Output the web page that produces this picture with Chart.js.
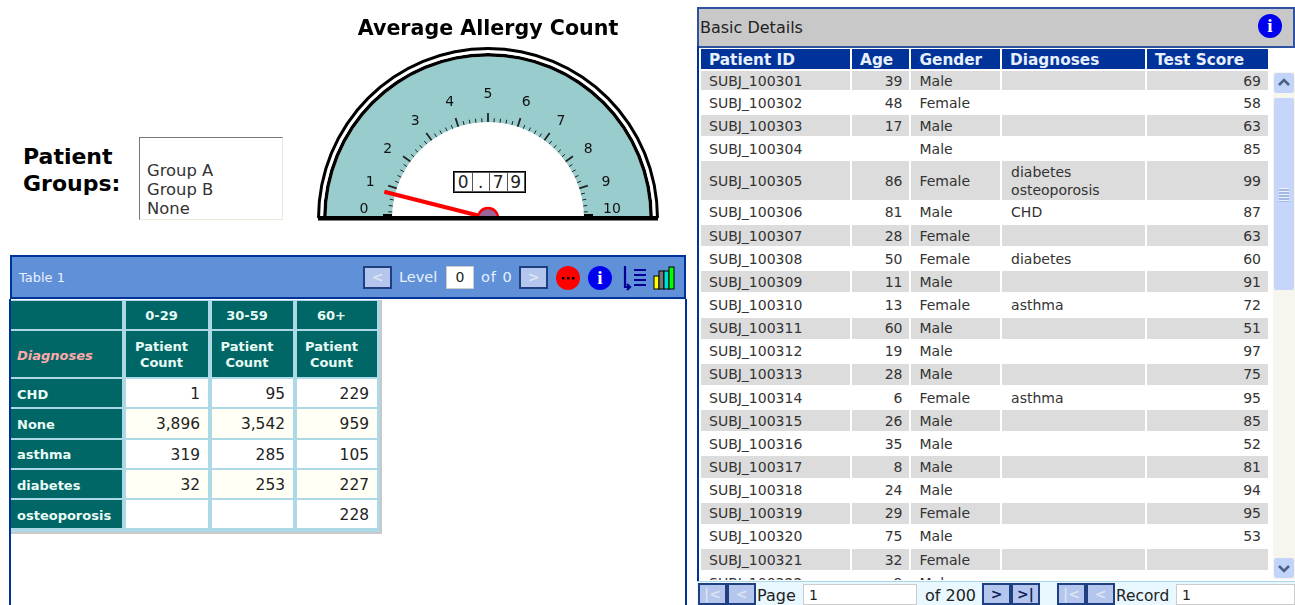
<!DOCTYPE html>
<html>
<head>
<meta charset="utf-8">
<title>Patient dashboard</title>
<script src="https://cdn.jsdelivr.net/npm/chart.js@4"></script>
<style>
html, body { margin: 0; padding: 0; background: #fff; overflow: hidden; }
body { width: 1295px; height: 605px; position: relative; font-family: "DejaVu Sans", sans-serif; color: #333; filter: blur(0.35px); }
.abs { position: absolute; white-space: nowrap; }

/* patient groups */
#groupsLabel { left: 23px; top: 143px; font-size: 22px; line-height: 27px; font-weight: bold; color: #000; }
#groupsList { left: 139px; top: 137px; width: 142px; height: 81px; border: 1px solid #eee8d8; border-top-color: #777; border-left-color: #777; }
#groupsList div { position: absolute; left: 7px; font-size: 16.4px; line-height: 19px; color: #333; }

/* gauge */
#gauge { position: absolute; left: 308px; top: 10px; }
#readout { left: 453px; top: 171px; display: flex; border: 1px solid #000; background: #555; gap: 1px; padding: 1px; }
#readout div { width: 16.5px; height: 18px; background: #fff; border: 0; font-size: 17px; line-height: 18px; text-align: center; color: #222; }

/* table 1 */
#t1Head { left: 10px; top: 255px; width: 672px; height: 40px; background: #6090d8; border: 2px solid #003399; }
#t1Left { left: 9px; top: 299px; width: 2px; height: 306px; background: #003399; }
#t1Right { left: 685px; top: 299px; width: 2px; height: 306px; background: #003399; }
#t1Wrap { left: 11px; top: 300px; background: #add8e6; border-right: 2px solid #c8c8c8; border-bottom: 2px solid #c8c8c8; padding: 0 3px 3px 0; }
#t1 { border-collapse: separate; border-spacing: 0; table-layout: fixed; }
#t1 td { padding: 2px 0 0; border-top: 1px solid #add8e6; border-bottom: 1px solid #add8e6; box-sizing: border-box; }
#t1 td + td { border-left: 4px solid #add8e6; }
#t1 .h { background-clip: padding-box; background-color: #006666; color: #e8fbf5; font-weight: bold; font-size: 13px; line-height: 16px; text-align: center; padding-right: 11px; }
#t1 .r { background-clip: padding-box; background-color: #006666; color: #e8fbf5; font-weight: bold; font-size: 13px; padding-left: 6px; }
#t1 .v { background-clip: padding-box; background-color: #fff; text-align: right; padding-right: 8px; color: #222; font-size: 15.4px; }
#t1 tr.alt .v { background-color: #fffff5; }
#t1 .dim { color: #ffaaaa; font-style: italic; }

/* navigation buttons */
.btn { box-sizing: border-box; height: 23px; border: 2px solid #1f3f80; background: #b4c6ee; color: #dde3ee; font-size: 14px; font-weight: bold; text-align: center; line-height: 18px; }
.btn.on { color: #10205a; }
.lbl { color: #e8f0ff; font-size: 14.5px; }
.box { box-sizing: border-box; background: #fff; border: 1px solid #ccc; color: #222; font-size: 14px; line-height: 20px; padding-left: 5px; }

/* basic details */
#bdHead { left: 697px; top: 7px; width: 594px; height: 37px; background: #c8c8c8; border: 2px solid #2f52a0; color: #222; font-size: 16px; line-height: 38px; text-indent: 1px; }
#bdLeft { left: 697px; top: 46px; width: 2px; height: 536px; background: #003399; }
#bdClip { left: 699px; top: 47px; width: 572px; height: 533px; overflow: hidden; }
#bd { border-collapse: separate; border-spacing: 2px; table-layout: fixed; width: 571px; font-size: 14px; color: #333; }
#bd th { background: #003399; color: #e8f0ff; font-size: 15.3px; font-weight: bold; text-align: left; padding: 2px 0 0 8px; height: 18px; line-height: 18px; }
#bd td { padding: 0 7px 0 8px; height: 21.15px; line-height: 18px; white-space: normal; }
#bd tr.grey td { background: #dcdcdc; }
#bd tr.first td { height: 19px; }
#bd tr.tall td { height: 38.5px; }
#bd .num { text-align: right; }
#bd .diag { padding-left: 9px; }

/* scrollbar */
#sbTrack { left: 1273px; top: 72px; width: 22px; height: 507px; background: #f6f5ee; }
.sbBtn { left: 1274px; width: 20px; height: 20px; background: #c3d4fa; border-radius: 3px; line-height: 0; }
#sbThumb { left: 1274px; top: 98px; width: 20px; height: 192px; background: #c6d6fb; border-radius: 2px; }
#sbGrip { left: 1279px; top: 188px; width: 10px; height: 14px; background: repeating-linear-gradient(#eef2fe 0, #eef2fe 1px, #a5b9e8 1px, #a5b9e8 3px); }

/* pager */
#pager { left: 697px; top: 581px; width: 598px; height: 24px; background: #e9f8ff; border-top: 1px solid #a8d8e8; }
.plbl { color: #222; font-size: 16px; }
</style>
</head>
<body>

<div class="abs" id="groupsLabel">Patient<br>Groups:</div>
<div class="abs" id="groupsList"></div>

<canvas id="gauge" width="360" height="220"></canvas>
<div class="abs" id="readout"></div>

<div class="abs" id="t1Head"></div>
<div class="abs" id="t1Left"></div>
<div class="abs" id="t1Right"></div>
<div class="abs" id="t1Wrap"><table id="t1"></table></div>

<div class="abs" id="bdHead">Basic Details</div>
<div class="abs" id="bdLeft"></div>
<div class="abs" id="bdClip"><table id="bd"></table></div>
<div class="abs" id="sbTrack"></div>
<div class="abs sbBtn" style="top:73px"><svg width="20" height="20" fill="none" stroke="#4d6185" stroke-width="2.5"><path d="M5 12L10 7L15 12"/></svg></div>
<div class="abs" id="sbThumb"></div>
<div class="abs" id="sbGrip"></div>
<div class="abs sbBtn" style="top:558px"><svg width="20" height="20" fill="none" stroke="#4d6185" stroke-width="2.5"><path d="M5 8L10 13L15 8"/></svg></div>
<div class="abs" id="pager"></div>

<script>
// gauge
var gaugeTitle = 'Average Allergy Count';
var gaugeMin = 0;
var gaugeMax = 10;
var gaugeValue = 0.79;
var gaugeLabels = ['0', '1', '2', '3', '4', '5', '6', '7', '8', '9', '10'];

// patient groups
var groupNames = ['Group A', 'Group B', 'None'];

// table 1
var ageBands = ['0-29', '30-59', '60+'];
var diagnosisNames = ['CHD', 'None', 'asthma', 'diabetes', 'osteoporosis'];
var counts0to29 = [1, 3896, 319, 32, null];
var counts30to59 = [95, 3542, 285, 253, null];
var counts60plus = [229, 959, 105, 227, 228];

// basic details
var detailColumns = ['Patient ID', 'Age', 'Gender', 'Diagnoses', 'Test Score'];
var patientIds = ['SUBJ_100301', 'SUBJ_100302', 'SUBJ_100303', 'SUBJ_100304', 'SUBJ_100305', 'SUBJ_100306', 'SUBJ_100307', 'SUBJ_100308', 'SUBJ_100309', 'SUBJ_100310', 'SUBJ_100311', 'SUBJ_100312', 'SUBJ_100313', 'SUBJ_100314', 'SUBJ_100315', 'SUBJ_100316', 'SUBJ_100317', 'SUBJ_100318', 'SUBJ_100319', 'SUBJ_100320', 'SUBJ_100321', 'SUBJ_100322'];
var patientAges = [39, 48, 17, '', 86, 81, 28, 50, 11, 13, 60, 19, 28, 6, 26, 35, 8, 24, 29, 75, 32, 9];
var patientGenders = ['Male', 'Female', 'Male', 'Male', 'Female', 'Male', 'Female', 'Female', 'Male', 'Female', 'Male', 'Male', 'Male', 'Female', 'Male', 'Male', 'Male', 'Male', 'Female', 'Male', 'Female', 'Male'];
var patientDiagnoses = ['', '', '', '', 'diabetes<br>osteoporosis', 'CHD', '', 'diabetes', '', 'asthma', '', '', '', 'asthma', '', '', '', '', '', '', '', ''];
var patientScores = [69, 58, 63, 85, 99, 87, 63, 60, 91, 72, 51, 97, 75, 95, 85, 52, 81, 94, 95, 53, '', ''];

function el(html, style, cls) {
  var d = document.createElement('div');
  d.className = 'abs ' + (cls || '');
  d.style.cssText = style;
  d.innerHTML = html;
  document.body.appendChild(d);
  return d;
}

// list box
groupNames.forEach(function(name, i) {
  var d = document.createElement('div');
  d.textContent = name;
  d.style.top = (23 + i * 19) + 'px';
  document.getElementById('groupsList').appendChild(d);
});

// digit readout under the needle
gaugeValue.toFixed(2).split('').forEach(function(ch) {
  var d = document.createElement('div');
  d.textContent = ch;
  document.getElementById('readout').appendChild(d);
});

// angle on the dial, 0 at the left end and 10 at the right end
function dialAngle(v) {
  return Math.PI + (v - gaugeMin) / (gaugeMax - gaugeMin) * Math.PI;
}

var dialPlugin = {
  id: 'dial',
  afterDatasetsDraw: function(chart) {
    var arc = chart.getDatasetMeta(3).data[0];
    var outer = chart.getDatasetMeta(0).data[0].outerRadius;
    var cx = arc.x, cy = arc.y, r = arc.innerRadius;
    var ctx = chart.ctx;
    ctx.save();

    // minor and major ticks
    ctx.strokeStyle = '#222';
    for (var t = 0; t <= 50; t++) {
      var a = dialAngle(gaugeMin + t / 5);
      var major = t % 5 === 0;
      ctx.lineWidth = major ? 1.8 : 1;
      ctx.beginPath();
      ctx.moveTo(cx + r * Math.cos(a), cy + r * Math.sin(a));
      ctx.lineTo(cx + (r + (major ? 9 : 4)) * Math.cos(a), cy + (r + (major ? 9 : 4)) * Math.sin(a));
      ctx.stroke();
    }

    // tick labels, pulled in a little on the diagonals
    ctx.fillStyle = '#111';
    ctx.font = '14px "DejaVu Sans"';
    ctx.textAlign = 'center';
    ctx.textBaseline = 'middle';
    gaugeLabels.forEach(function(txt) {
      var a = dialAngle(Number(txt));
      var lx = cx + (r + 28) * Math.cos(a);
      var ly = cy + (r + 28) * Math.sin(a) + 4 * Math.abs(Math.sin(2 * a));
      ctx.fillText(txt, lx, Math.min(ly, cy - 9));
    });

    // needle
    var na = dialAngle(gaugeValue);
    ctx.strokeStyle = '#ff0000';
    ctx.lineWidth = 4;
    ctx.beginPath();
    ctx.moveTo(cx, cy);
    ctx.lineTo(cx + (r + 11) * Math.cos(na), cy + (r + 11) * Math.sin(na));
    ctx.stroke();

    // hub
    ctx.fillStyle = '#996699';
    ctx.lineWidth = 2.5;
    ctx.beginPath();
    ctx.arc(cx, cy, 10, Math.PI, 2 * Math.PI);
    ctx.fill();
    ctx.stroke();

    // base line and the thick end marks
    ctx.fillStyle = '#000';
    ctx.fillRect(cx - outer + 1, cy - 2, 2 * outer - 2, 4.5);
    ctx.fillRect(cx - r - 9, cy - 4, 9, 3);
    ctx.fillRect(cx + r, cy - 4, 9, 3);
    ctx.restore();
  }
};

var gauge = new Chart(document.getElementById('gauge'), {
  type: 'doughnut',
  data: {
    datasets: [
      { data: [gaugeMax - gaugeMin], backgroundColor: '#000000', borderWidth: 0, weight: 3 },
      { data: [gaugeMax - gaugeMin], backgroundColor: '#ffffff', borderWidth: 0, weight: 3 },
      { data: [gaugeMax - gaugeMin], backgroundColor: '#000000', borderWidth: 0, weight: 3.5 },
      { data: [gaugeMax - gaugeMin], backgroundColor: '#99cccc', borderWidth: 0, weight: 65.5 }
    ]
  },
  options: {
    responsive: false,
    animation: false,
    rotation: -90,
    circumference: 180,
    cutout: '56.14%',
    layout: { padding: { left: 9, right: 9, top: 0, bottom: 12 } },
    plugins: {
      legend: { display: false },
      tooltip: { enabled: false },
      title: {
        display: true,
        text: gaugeTitle,
        color: '#000',
        font: { family: '"DejaVu Sans"', size: 20.6, weight: 'bold' },
        padding: { top: 7, bottom: 5.3 }
      }
    }
  },
  plugins: [dialPlugin]
});

// table 1
var t1Html = '<colgroup><col style="width:111px"><col style="width:86px"><col style="width:85px"><col style="width:84px"></colgroup>';
t1Html += '<tr style="height:30px"><td class="h"></td>' + ageBands.map(function(b) { return '<td class="h">' + b + '</td>'; }).join('') + '</tr>';
t1Html += '<tr style="height:48px"><td class="r dim">Diagnoses</td>' + ageBands.map(function() { return '<td class="h">Patient<br>Count</td>'; }).join('') + '</tr>';
diagnosisNames.forEach(function(name, i) {
  var row = [counts0to29[i], counts30to59[i], counts60plus[i]];
  t1Html += '<tr style="height:30.3px"' + (i % 2 ? ' class="alt"' : '') + '><td class="r">' + name + '</td>';
  row.forEach(function(v) {
    t1Html += '<td class="v">' + (v === null ? '' : v.toLocaleString('en-US')) + '</td>';
  });
  t1Html += '</tr>';
});
document.getElementById('t1').innerHTML = t1Html;

// basic details table
var bdHtml = '<colgroup><col style="width:148px"><col style="width:57px"><col style="width:88px"><col style="width:142px"><col style="width:120px"></colgroup>';
bdHtml += '<tr>' + detailColumns.map(function(c) { return '<th>' + c + '</th>'; }).join('') + '</tr>';
patientIds.forEach(function(id, i) {
  var cls = (i % 2 ? '' : 'grey') + (i === 0 ? ' first' : '') + (i === 4 ? ' tall' : '');
  bdHtml += '<tr class="' + cls + '"><td>' + id + '</td><td class="num">' + patientAges[i] + '</td><td>' + patientGenders[i] + '</td><td class="diag">' + patientDiagnoses[i] + '</td><td class="num">' + patientScores[i] + '</td></tr>';
});
document.getElementById('bd').innerHTML = bdHtml;

// toolbar of table 1
el('Table 1', 'left:19px;top:270px;color:#e8f0ff;font-size:13px');
el('&lt;', 'left:363px;top:266px;width:29px', 'btn');
el('Level', 'left:399px;top:269px', 'lbl');
el('0', 'left:446px;top:266px;width:28px;height:23px;padding:0;text-align:center', 'box');
el('of 0', 'left:481px;top:269px;letter-spacing:1px', 'lbl');
el('&gt;', 'left:519px;top:266px;width:29px', 'btn');

function infoIcon(cx, cy) {
  el('<svg width="24" height="24"><circle cx="12" cy="12" r="12" fill="#0000ee"/><text x="12" y="18" text-anchor="middle" font-family="Liberation Serif" font-weight="bold" font-size="19" fill="#fff">i</text></svg>', 'left:' + (cx - 12) + 'px;top:' + (cy - 12) + 'px;line-height:0');
}
el('<svg width="24" height="24"><circle cx="12" cy="12" r="12" fill="#ff0000"/><rect x="6" y="11" width="2.5" height="2.5" fill="#000"/><rect x="11" y="11" width="2.5" height="2.5" fill="#000"/><rect x="16" y="11" width="2.5" height="2.5" fill="#000"/></svg>', 'left:556px;top:266px;line-height:0');
infoIcon(600, 278);
infoIcon(1270, 26);
el('<svg width="26" height="26" fill="none" stroke="#000099" stroke-width="2.2"><path d="M3 1V22H7M5 19L8 22L5 25"/><path d="M12 5H24M12 10H24M12 15H24M12 20H24"/></svg>', 'left:622px;top:265px;line-height:0');
el('<svg width="24" height="26" stroke="#000" stroke-width="1"><rect x="1" y="11" width="5" height="13" fill="#ffff00"/><rect x="6" y="6" width="5" height="18" fill="#777"/><rect x="11" y="6" width="5" height="18" fill="#00dddd"/><rect x="16" y="2" width="5" height="22" fill="#00ff00"/></svg>', 'left:653px;top:265px;line-height:0');

// pager of the details table
function pagerBtn(txt, left, on) {
  el(txt, 'left:' + left + 'px;top:583px;width:29px;height:22px', 'btn' + (on ? ' on' : ''));
}
pagerBtn('|&lt;', 698, false);
pagerBtn('&lt;', 727, false);
el('Page', 'left:757px;top:586px', 'plbl');
el('1', 'left:803px;top:584px;width:114px;height:21px', 'box');
el('of 200', 'left:925px;top:586px', 'plbl');
pagerBtn('&gt;', 982, true);
pagerBtn('&gt;|', 1011, true);
pagerBtn('|&lt;', 1057, false);
pagerBtn('&lt;', 1086, false);
el('Record', 'left:1116px;top:587px;font-size:15.4px', 'plbl');
el('1', 'left:1176px;top:584px;width:119px;height:21px', 'box');
</script>
</body>
</html>
